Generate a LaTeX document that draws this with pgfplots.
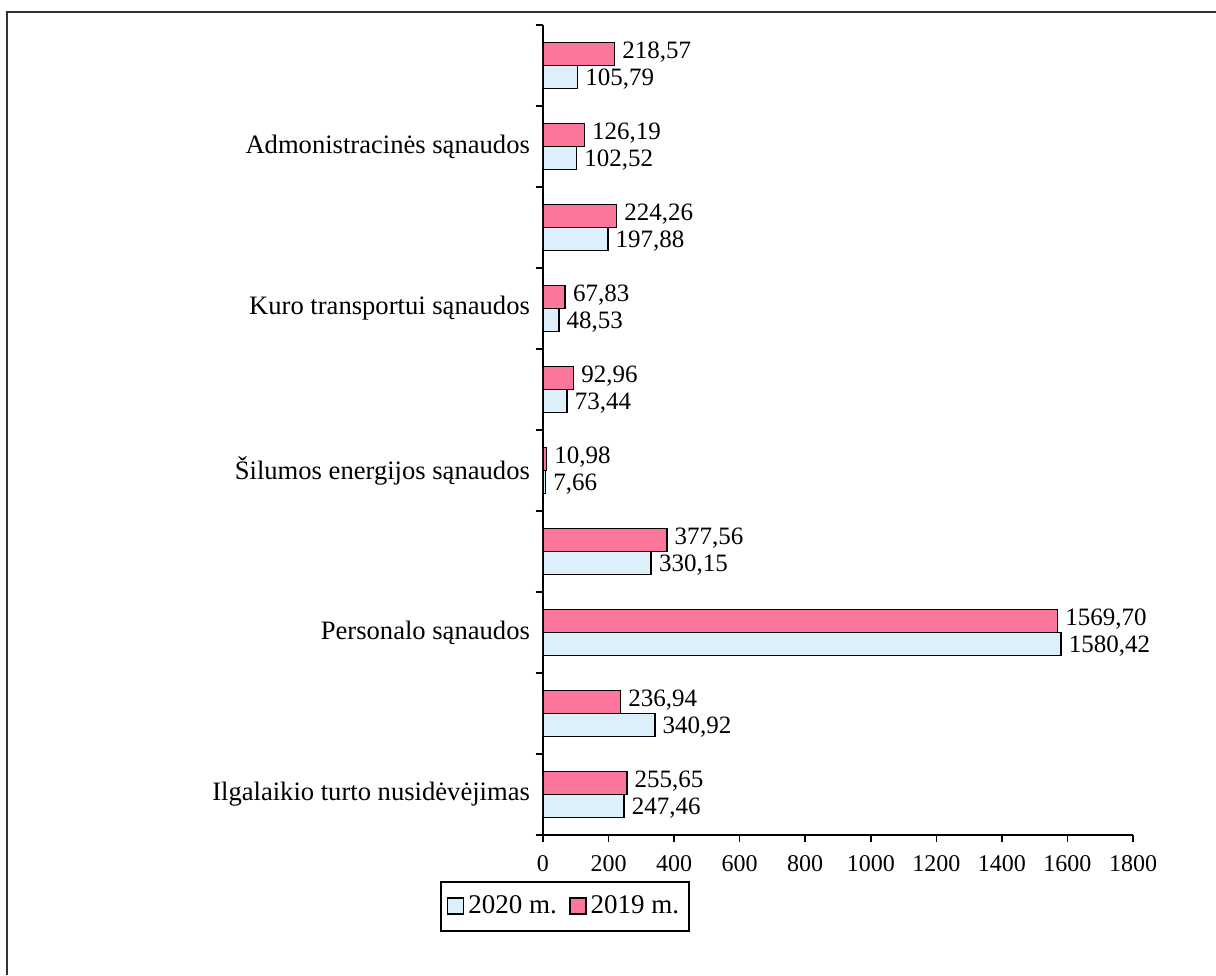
\documentclass[border=0pt]{standalone}
\usepackage{fontspec}
\setmainfont{Liberation Serif}
\usepackage{pgfplots}
\pgfplotsset{compat=1.18}

\definecolor{pinkbar}{RGB}{252,118,156}
\definecolor{bluebar}{RGB}{221,239,251}

\begin{document}
\begin{tikzpicture}[x=1pt,y=1pt,font=\fontsize{12}{14}\selectfont]
\begin{axis}[
  at={(0,0)}, anchor=south west,
  scale only axis,
  width=295pt, height=405pt,
  xbar,
  bar width=11.5pt,
  xmin=0, xmax=1800,
  ymin=-0.5, ymax=9.5,
  axis lines=left,
  axis line style={-, line width=0.8pt},
  xtick={0,200,...,1800},
  ytick={-0.5,0.5,...,9.5},
  yticklabels={},
  extra y ticks={0,2,4,6,8},
  extra y tick labels={Ilgalaikio turto nusidėvėjimas,Personalo sąnaudos,Šilumos energijos sąnaudos,Kuro transportui sąnaudos,Admonistracinės sąnaudos},
  extra y tick style={major tick length=0pt,
    yticklabel style={xshift=-3pt, font=\fontsize{13.3}{15}\selectfont}},
  tick align=outside,
  major tick length=3.5pt,
  tick style={line width=0.8pt, black},
  ticklabel style={font=\fontsize{12}{14}\selectfont},
  xticklabel style={yshift=-3pt},
  /pgf/number format/assume math mode=true,
  x tick label style={/pgf/number format/fixed, /pgf/number format/1000 sep={}},
  nodes near coords,
  nodes near coords style={font=\fontsize{12.5}{14}\selectfont, inner sep=0pt, xshift=3.5pt,
    /pgf/number format/fixed, /pgf/number format/fixed zerofill,
    /pgf/number format/precision=2, /pgf/number format/use comma,
    /pgf/number format/1000 sep={}},
  legend style={at={(0.0373,-0.0877)}, anchor=center, legend columns=2,
    draw=black, line width=1pt, font=\fontsize{13.5}{15}\selectfont,
    inner xsep=3pt, inner ysep=5pt, /tikz/every even column/.append style={column sep=4pt}},
  legend image code/.code={\draw[#1, line width=0.8pt] (0pt,-4pt) rectangle (8pt,4pt);},
]
\addplot[draw=black, line width=0.8pt, fill=bluebar, bar shift=-5.75pt,
  nodes near coords style={/tikz/yshift=-1pt}] coordinates {
  (247.46,0) (340.92,1) (1580.42,2) (330.15,3) (7.66,4)
  (73.44,5) (48.53,6) (197.88,7) (102.52,8) (105.79,9)};
\addplot[draw=black, line width=0.8pt, fill=pinkbar, bar shift=5.75pt,
  nodes near coords style={/tikz/yshift=1pt}] coordinates {
  (255.65,0) (236.94,1) (1569.70,2) (377.56,3) (10.98,4)
  (92.96,5) (67.83,6) (224.26,7) (126.19,8) (218.57,9)};
\legend{2020 m.,2019 m.}
\end{axis}
\draw[line width=1pt, black!80] (-268,-70) -- (-268,411.5) -- (336.5,411.5);
\pgfresetboundingbox
\path[use as bounding box] (-271.5,-70) rectangle (336.5,417.5);
\end{tikzpicture}
\end{document}
